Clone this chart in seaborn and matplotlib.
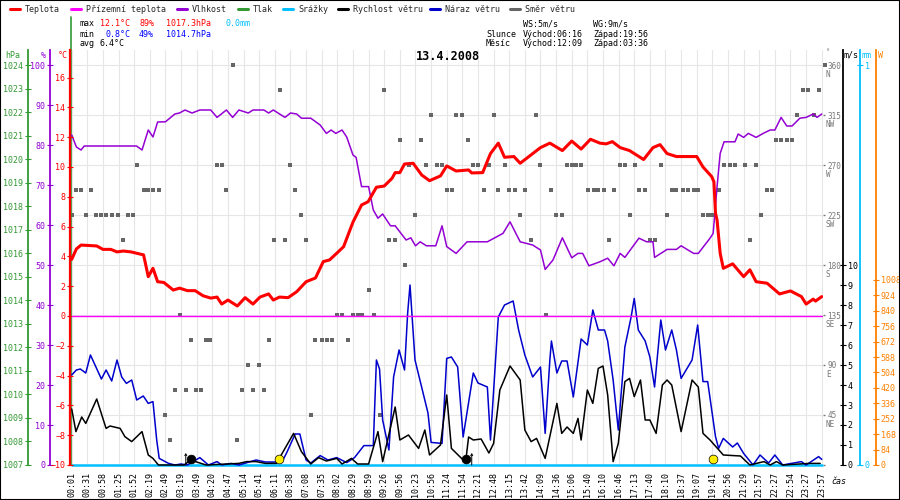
import numpy as np
import pandas as pd
import seaborn as sns
import matplotlib.pyplot as plt
from matplotlib.lines import Line2D
from matplotlib.patches import Rectangle

sns.set_style('white')
plt.rcParams['font.family'] = ['DejaVu Sans Mono']
plt.rcParams['font.size'] = 6

# x positions are in units of the time-label spacing (label i sits at x = i)
times = ["00:01", "00:31", "00:58", "01:25", "01:52", "02:19", "02:49", "03:19", "03:49", "04:20",
         "04:47", "05:14", "05:41", "06:11", "06:38", "07:08", "07:35", "08:02", "08:29", "08:59",
         "09:26", "09:56", "10:23", "10:56", "11:24", "11:54", "12:21", "12:48", "13:15", "13:42",
         "14:09", "14:36", "15:06", "15:40", "16:10", "16:46", "17:13", "17:40", "18:10", "18:37",
         "19:07", "19:41", "20:56", "21:29", "21:57", "22:27", "22:54", "23:27", "23:57"]

temp_u = [0, 0.3, 0.6, 1.6, 2.0, 2.5, 2.9, 3.3, 3.8, 4.4, 4.6, 4.9, 5.2, 5.5, 5.9, 6.5, 6.9, 7.4, 7.9,
          8.4, 8.9, 9.3, 9.6, 10.0, 10.6, 11.1, 11.6, 12.05, 12.6, 12.9, 13.3, 13.85, 14.4, 15.0, 15.6,
          16.1, 16.5, 17.05, 17.4, 18.0, 18.55, 18.97, 19.5, 20.0, 20.5, 20.7, 21.0, 21.3, 21.85, 22.4,
          22.9, 23.6, 24.0, 24.6, 25.4, 25.6, 26.3, 26.8, 27.3, 27.7, 28.3, 28.7, 30.0, 30.6, 31.4,
          32.0, 32.6, 33.2, 33.8, 34.2, 34.6, 35.1, 35.7, 36.6, 37.2, 37.65, 38.1, 38.7, 40.0, 40.4,
          40.96, 41.1, 41.2, 41.3, 41.5, 41.7, 42.3, 43.0, 43.4, 43.8, 44.5, 45.3, 46.0, 46.7, 47.0,
          47.45, 47.6, 48.0]
temp = [3.8, 4.5, 4.76, 4.7, 4.47, 4.47, 4.3, 4.36, 4.3, 4.15, 4.1, 2.64, 3.2, 2.3, 2.25, 1.74, 1.87,
        1.7, 1.7, 1.36, 1.2, 1.27, 0.8, 1.07, 0.67, 1.23, 0.8, 1.27, 1.48, 1.07, 1.27, 1.23, 1.63, 2.3,
        2.55, 3.65, 3.76, 4.3, 4.65, 6.3, 7.45, 7.67, 8.64, 8.72, 9.24, 9.62, 9.62, 10.2, 10.25, 9.46,
        9.08, 9.4, 10.07, 9.73, 9.8, 9.6, 9.62, 10.9, 11.6, 10.65, 10.7, 10.25, 11.3, 11.6, 11.1,
        11.74, 11.2, 11.86, 11.6, 11.55, 11.7, 11.3, 11.1, 10.5, 11.3, 11.5, 10.9, 10.7, 10.7, 10.0,
        9.35, 9.0, 6.9, 6.44, 4.2, 3.2, 3.5, 2.64, 3.1, 2.3, 2.2, 1.48, 1.68, 1.3, 0.8, 1.13, 1.0, 1.3]

hum_u = [0, 0.3, 0.6, 0.8, 4.15, 4.5, 4.9, 5.2, 5.5, 6.0, 6.6, 6.9, 7.25, 7.7, 8.2, 8.9, 9.3, 9.9,
         10.3, 10.7, 11.3, 11.6, 12.3, 12.6, 12.9, 13.65, 14.0, 14.4, 14.7, 15.3, 15.9, 16.3, 16.6,
         16.9, 17.3, 17.6, 18.0, 18.2, 18.55, 19.0, 19.3, 19.6, 19.9, 20.4, 20.7, 21.4, 21.7, 22.0,
         22.3, 22.7, 23.3, 23.7, 24.0, 24.6, 25.3, 26.6, 27.6, 28.05, 28.7, 29.5, 30.0, 30.3, 30.8,
         31.4, 32.0, 32.4, 32.7, 33.1, 33.8, 34.3, 34.7, 35.1, 35.4, 36.3, 36.8, 37.2, 37.3, 38.1,
         38.7, 39.0, 39.8, 40.1, 40.85, 41.05, 41.15, 41.3, 41.5, 41.75, 42.45, 42.65, 43.0, 43.3,
         43.8, 44.25, 44.7, 45.0, 45.4, 45.76, 46.1, 46.6, 47.0, 47.45, 47.7, 48.0]
hum = [82.5, 79.5, 78.75, 79.75, 79.75, 78.75, 83.75, 82, 85.75, 85.8, 87.75, 88, 88.75, 88, 88.75,
       88.75, 86.9, 88.75, 86.9, 88.75, 88, 88.75, 88.75, 88, 88.75, 86.9, 88, 87.75, 86.7, 86.7, 85,
       82.9, 83.75, 82.9, 83.75, 82, 77.5, 76.9, 69.6, 69.6, 63.75, 61.7, 62.75, 59.8, 59.8, 56.25,
       56.8, 54.8, 55.8, 54.8, 54.8, 59.8, 54.6, 52.9, 55.8, 55.8, 57.9, 60.8, 55.8, 55, 53.75, 48.9,
       51.25, 56.8, 51.8, 52.9, 52.9, 49.8, 50.8, 51.7, 49.8, 52.9, 51.9, 56.7, 55.8, 55.8, 51.9,
       53.9, 53.9, 54.8, 52.9, 52.9, 56.7, 57.9, 62.5, 69.6, 77.9, 80.8, 80.8, 82.75, 81.9, 82.9,
       81.9, 82.9, 83.75, 83.75, 86.9, 84.75, 84.75, 86.7, 86.9, 87.75, 86.9, 87.75]

gust_u = [0, 0.3, 0.55, 0.9, 1.2, 1.9, 2.2, 2.56, 2.9, 3.2, 3.5, 3.84, 4.16, 4.58, 4.9, 5.2, 5.44,
          5.6, 6.2, 6.6, 7.0, 7.4, 8.2, 8.75, 9.3, 9.6, 10.2, 10.7, 11.8, 12.4, 13.45, 13.75, 14.3,
          14.6, 15.0, 15.3, 15.9, 16.4, 16.96, 17.6, 18.1, 18.7, 19.3, 19.5, 19.7, 19.9, 20.3, 20.6,
          20.95, 21.3, 21.5, 21.65, 21.97, 22.8, 23.0, 23.7, 24.0, 24.3, 24.7, 25.05, 25.7, 26.0,
          26.6, 26.8, 27.3, 27.7, 28.25, 28.6, 29.0, 29.5, 30.0, 30.3, 30.6, 30.7, 31.05, 31.36,
          31.7, 32.1, 32.6, 33.0, 33.35, 33.7, 34.1, 34.3, 34.65, 34.98, 35.4, 35.8, 36.0, 36.26,
          36.7, 37.0, 37.3, 37.7, 38.0, 38.4, 38.7, 39.0, 39.7, 40.06, 40.4, 40.7, 41.2, 41.4, 41.7,
          42.3, 42.6, 43.0, 43.6, 44.05, 44.6, 45.0, 45.5, 46.7, 47.0, 47.8, 48.0]
gust = [4.5, 4.75, 4.8, 4.6, 5.5, 4.3, 4.75, 4.2, 5.25, 4.4, 4.08, 4.25, 3.25, 3.45, 3.08, 3.17, 1.25,
        0.33, 0.08, 0, 0.05, 0, 0.37, 0, 0.17, 0, 0.08, 0, 0.25, 0.15, 0.15, 0.6, 1.55, 1.55, 0.25,
        0.1, 0.47, 0.25, 0.37, 0.12, 0.37, 0.97, 0.97, 5.25, 4.8, 2.25, 0.75, 4.4, 5.75, 4.75, 7.6,
        9.0, 5.25, 2.6, 1.13, 1.08, 5.33, 5.4, 4.9, 1.4, 4.6, 4.1, 3.9, 1.25, 7.4, 8.0, 8.2, 6.75,
        5.5, 4.4, 4.9, 1.58, 5.25, 6.2, 4.6, 5.2, 5.2, 3.4, 6.3, 6.0, 7.75, 6.75, 6.75, 6.2, 4.25,
        1.75, 5.9, 7.4, 8.33, 6.75, 6.2, 5.4, 3.9, 7.25, 5.75, 6.75, 5.75, 4.33, 5.25, 7.0, 4.17,
        4.17, 1.42, 0.83, 1.33, 0.9, 1.1, 0.58, 0, 0.5, 0.1, 0.5, 0, 0.17, 0, 0.42, 0.28]

speed_u = [0, 0.27, 0.64, 0.9, 1.6, 2.2, 2.45, 3.1, 3.4, 3.84, 4.5, 4.9, 5.2, 5.55, 7.2, 7.6, 8.2,
           8.6, 10.7, 11.2, 11.8, 12.4, 13.1, 14.2, 14.7, 15.3, 15.8, 16.3, 16.96, 17.3, 17.9, 18.3,
           19.0, 19.6, 19.9, 20.7, 21.0, 21.55, 22.2, 22.6, 22.9, 23.6, 24.0, 24.3, 24.95, 25.2, 25.4,
           25.7, 26.2, 26.7, 27.0, 27.4, 28.05, 28.7, 29.0, 29.4, 29.75, 30.3, 31.05, 31.36, 31.7,
           32.1, 32.4, 32.6, 33.0, 33.35, 33.7, 34.0, 34.3, 34.65, 34.98, 35.4, 35.7, 36.0, 36.4,
           36.7, 37.0, 37.4, 37.8, 38.1, 38.4, 39.0, 39.7, 40.1, 40.4, 40.85, 41.7, 42.8, 43.4, 44.3,
           44.7, 45.1, 45.5, 47.2, 47.9]
speed = [2.8, 1.67, 2.4, 2.08, 3.3, 1.83, 1.95, 1.83, 1.42, 1.17, 1.67, 0.5, 0.33, 0, 0, 0.25, 0.1,
         0, 0.08, 0.17, 0.17, 0.08, 0.08, 1.58, 0.67, 0.05, 0.37, 0.2, 0.33, 0.05, 0.33, 0.05, 0.05,
         1.67, 0.17, 2.9, 1.25, 1.5, 0.83, 1.75, 0.5, 1.0, 3.5, 0.83, 0.33, 0.1, 1.4, 1.25, 1.3, 0.6,
         1.08, 3.75, 4.95, 4.25, 1.75, 1.17, 1.33, 0.33, 3.08, 1.58, 1.9, 1.58, 2.33, 1.25, 3.75,
         3.08, 4.83, 4.95, 3.5, 0.17, 1.08, 4.17, 4.33, 3.42, 4.25, 2.25, 2.25, 1.58, 4.0, 4.25, 4.0,
         1.67, 4.25, 3.9, 1.58, 1.25, 0.5, 0.45, 0, 0.17, 0, 0.17, 0, 0.08, 0.08]

dir_u = [0, 0.27, 0.59, 0.91, 1.24, 1.58, 1.9, 2.2, 2.56, 2.94, 3.26, 3.58, 3.9, 4.2, 4.6, 4.9, 5.2,
         5.6, 5.97, 6.3, 6.6, 6.93, 7.3, 7.64, 7.95, 8.25, 8.6, 8.85, 9.28, 9.6, 9.9, 10.3, 10.6,
         10.9, 11.26, 11.6, 11.98, 12.3, 12.6, 12.95, 13.3, 13.65, 13.97, 14.3, 14.65, 15.0, 15.3,
         15.6, 16.0, 16.35, 16.65, 16.96, 17.3, 17.7, 18.0, 18.3, 18.6, 19.05, 19.35, 19.7, 20.0,
         20.3, 20.7, 21.0, 21.33, 21.6, 22.0, 22.36, 22.67, 22.97, 23.36, 23.68, 24.04, 24.36, 24.6,
         24.99, 25.36, 25.66, 25.98, 26.4, 26.69, 27.03, 27.3, 27.7, 28.0, 28.4, 28.7, 29.0, 29.4,
         29.7, 30.0, 30.35, 30.7, 31.0, 31.4, 31.7, 32.0, 32.3, 32.6, 33.06, 33.4, 33.7, 34.07,
         34.4, 34.7, 35.1, 35.4, 35.7, 36.05, 36.3, 36.7, 37.0, 37.3, 37.7, 38.1, 38.4, 38.7, 39.1,
         39.46, 39.8, 40.1, 40.4, 40.7, 41.0, 41.4, 41.75, 42.1, 42.45, 43.1, 43.4, 43.8, 44.1,
         44.5, 44.8, 45.07, 45.4, 45.76, 46.08, 46.4, 46.8, 47.1, 47.5, 47.8, 48.2]
wind_dir = [225, 247.5, 247.5, 225, 247.5, 225, 225, 225, 225, 225, 202.5, 225, 225, 270, 247.5,
            247.5, 247.5, 247.5, 45, 22.5, 67.5, 135, 67.5, 112.5, 67.5, 67.5, 112.5, 112.5, 270,
            270, 247.5, 360, 22.5, 67.5, 90, 67.5, 90, 67.5, 112.5, 202.5, 337.5, 202.5, 270, 247.5,
            225, 202.5, 45, 112.5, 112.5, 112.5, 112.5, 135, 135, 112.5, 135, 135, 135, 157.5, 135,
            45, 337.5, 202.5, 202.5, 292.5, 180, 270, 225, 292.5, 270, 315, 270, 270, 247.5, 247.5,
            315, 315, 292.5, 270, 270, 247.5, 270, 315, 247.5, 270, 247.5, 247.5, 225, 247.5, 202.5,
            315, 270, 135, 247.5, 225, 225, 270, 270, 270, 270, 247.5, 247.5, 247.5, 247.5, 202.5,
            247.5, 270, 270, 225, 270, 247.5, 247.5, 202.5, 202.5, 270, 225, 247.5, 247.5, 247.5,
            247.5, 247.5, 247.5, 225, 225, 225, 247.5, 270, 270, 270, 270, 202.5, 270, 225, 247.5,
            247.5, 292.5, 292.5, 292.5, 292.5, 315, 337.5, 337.5, 315, 337.5, 360]

# apparent temperature and rain sit on zero all day
flat_u = list(range(49))
app_temp = [0.0] * 49
rain = [0.0] * 49

sun_u = [13.28, 41.05]
moon_u = [7.66, 25.23]
marker_y = [0.28, 0.28]
arrow_u = [7.3, 25.6]

C_T, C_APP, C_HUM, C_P = '#ff0000', '#ff00ff', '#9400d3', '#339933'
C_RAIN, C_GUST, C_DIR, C_SOL = '#00bfff', '#0000cc', '#666666', '#ff8000'

W, H = 900, 500
def fx(x):
    return x / W
def fy(y):
    return 1 - y / H

X0, X1, Y0, Y1 = 70, 823, 50, 465
def sf(px):
    return (px - X0) / (X1 - X0)

fig = plt.figure(figsize=(9, 5), dpi=100, facecolor='white')
ax_d = fig.add_axes([fx(X0), fy(Y1), (X1 - X0) / W, (Y1 - Y0) / H])
XL = (-0.109, 48.08)

def twin(ylim, side, pos, color, ticks, labels=None, length=5):
    a = ax_d.twinx()
    for s in a.spines.values():
        s.set_visible(False)
    sp = a.spines[side]
    sp.set_visible(True)
    sp.set_position(('axes', sf(pos)))
    sp.set_color(color)
    sp.set_linewidth(1.3)
    if side == 'left':
        a.yaxis.tick_left()
    else:
        a.yaxis.tick_right()
    a.set_ylim(ylim)
    a.set_yticks(ticks)
    if labels is not None:
        a.set_yticklabels(labels)
    a.tick_params(axis='y', colors=color, direction='inout', length=length, width=0.8, pad=1,
                  labelsize=6)
    a.set_xlim(XL)
    return a

ax_s = twin((0, 2261), 'right', 876, C_SOL, list(range(0, 1009, 84)))
ax_r = twin((0, 1.0375), 'right', 860, C_RAIN, [0, 1])
ax_p = twin((1007, 1024.64), 'left', 28, C_P, list(range(1007, 1025)))
ax_w = twin((0, 20.75), 'right', 843, 'black', list(range(0, 11)))
ax_h = twin((0, 103.75), 'left', 50, C_HUM, list(range(0, 101, 10)))
ax_t = twin((-10, 17.85), 'left', 70, C_T, list(range(-10, 17, 2)))
ax_t.spines['left'].set_linewidth(1.6)

# host axis: wind direction + grid
ax_d.set_xlim(XL)
ax_d.set_ylim(0, 373.5)
for s in ax_d.spines.values():
    s.set_visible(False)
ax_d.yaxis.tick_right()
ax_d.set_yticks(list(range(0, 361, 45)))
ax_d.set_yticklabels([''] + [str(v) for v in range(45, 361, 45)])
ax_d.set_xticks(list(range(49)))
ax_d.set_xticklabels(times, rotation=90)
ax_d.tick_params(axis='y', colors='#777777', length=1.5, width=1, pad=1.5, labelsize=5.5)
ax_d.tick_params(axis='x', colors='black', length=3, width=0.6, pad=2, labelsize=6)
ax_d.grid(True, color='#e6e6e6', linewidth=0.8)
ax_d.set_axisbelow(True)
for deg, letter in zip(range(45, 361, 45), ['NE', 'E', 'SE', 'S', 'SW', 'W', 'NW', 'N']):
    ax_d.annotate(letter, xy=(1, deg), xycoords=('axes fraction', 'data'), xytext=(3, -5),
                  textcoords='offset pixels', ha='left', va='top', fontsize=5.5, color='#777777')

sns.scatterplot(x=dir_u, y=wind_dir, ax=ax_d, marker='s', s=8.5, color=C_DIR, linewidth=0,
                zorder=3, clip_on=False)

sns.lineplot(x=flat_u, y=rain, ax=ax_r, color=C_RAIN, linewidth=1.8, estimator=None, sort=False,
             clip_on=False)

sns.lineplot(x=gust_u, y=gust, ax=ax_w, color=C_GUST, linewidth=1.1, estimator=None, sort=False,
             clip_on=False)
sns.lineplot(x=speed_u, y=speed, ax=ax_w, color='black', linewidth=1.1, estimator=None, sort=False,
             clip_on=False)
sns.scatterplot(x=sun_u, y=marker_y, ax=ax_w, s=40, color='#ffee00', edgecolor='black',
                linewidth=0.5, zorder=5, clip_on=False)
sns.scatterplot(x=moon_u, y=marker_y, ax=ax_w, s=40, color='black', edgecolor='black',
                linewidth=0.5, zorder=5, clip_on=False)
for u in arrow_u:
    ax_w.annotate('', xy=(u, 0.6), xytext=(u, 0),
                  arrowprops=dict(arrowstyle='->,head_length=0.2,head_width=0.12', lw=0.7,
                                  color='black', shrinkA=0, shrinkB=0))

sns.lineplot(x=hum_u, y=hum, ax=ax_h, color=C_HUM, linewidth=1.1, estimator=None, sort=False)
sns.lineplot(x=flat_u, y=app_temp, ax=ax_t, color=C_APP, linewidth=1.0, estimator=None, sort=False)
sns.lineplot(x=temp_u, y=temp, ax=ax_t, color=C_T, linewidth=2.2, estimator=None, sort=False)

for a in [ax_s, ax_r, ax_p, ax_w, ax_h, ax_t, ax_d]:
    a.set_xlabel('')
    a.set_ylabel('')
    a.set_xlim(XL)

# pressure marker line along the left edge
ax_p.plot([0.0015, 0.0015], [0, (Y1 - 17) / (Y1 - Y0)], transform=ax_p.transAxes, color=C_P,
          linewidth=1.2, clip_on=False)

# legend row
legend = [("Teplota", C_T, 10), ("Přízemní teplota", C_APP, 71), ("Vlhkost", C_HUM, 177),
          ("Tlak", C_P, 238), ("Srážky", C_RAIN, 283), ("Rychlost větru", 'black', 338),
          ("Náraz větru", C_GUST, 430), ("Směr větru", C_DIR, 510)]
for label, col, x in legend:
    fig.add_artist(Line2D([fx(x), fx(x + 10)], [fy(9), fy(9)], color=col, linewidth=2.2))
    fig.text(fx(x + 15), fy(9), label, ha='left', va='center', fontsize=6)

def t(x, y, s, color='black', **kw):
    fig.text(fx(x), fy(y), s, ha=kw.pop('ha', 'left'), va='center', color=color,
             fontsize=kw.pop('fontsize', 6), **kw)

t(80, 24, "max")
t(100, 24, "12.1°C", C_T)
t(139, 24, "89%", C_T)
t(166, 24, "1017.3hPa", C_T)
t(226, 24, "0.0mm", C_RAIN)
t(80, 34, "min")
t(106, 34, "0.8°C", '#0000ff')
t(139, 34, "49%", '#0000ff')
t(166, 34, "1014.7hPa", '#0000ff')
t(80, 44, "avg")
t(100, 44, "6.4°C")
t(523, 24, "WS:5m/s")
t(593, 24, "WG:9m/s")
t(486, 34, "Slunce")
t(523, 34, "Východ:06:16")
t(593, 34, "Západ:19:56")
t(486, 44, "Měsíc")
t(523, 44, "Východ:12:09")
t(593, 44, "Západ:03:36")
t(448, 57, "13.4.2008", ha='center', fontsize=8.5, fontweight='bold')

t(5, 55, "hPa", C_P)
t(41, 55, "%", C_HUM)
t(58, 55, "°C", C_T)
t(826, 52, "°", '#777777', fontsize=5)
t(844, 55, "m/s")
t(861, 55, "mm", C_RAIN)
t(878, 55, "W", C_SOL)
t(831, 481, "čas", fontstyle='italic')

fig.add_artist(Rectangle((0, 0), 1, 1, transform=fig.transFigure, fill=False, edgecolor='black',
                         linewidth=1.5))

fig.savefig('out.png', dpi=100, facecolor='white')
